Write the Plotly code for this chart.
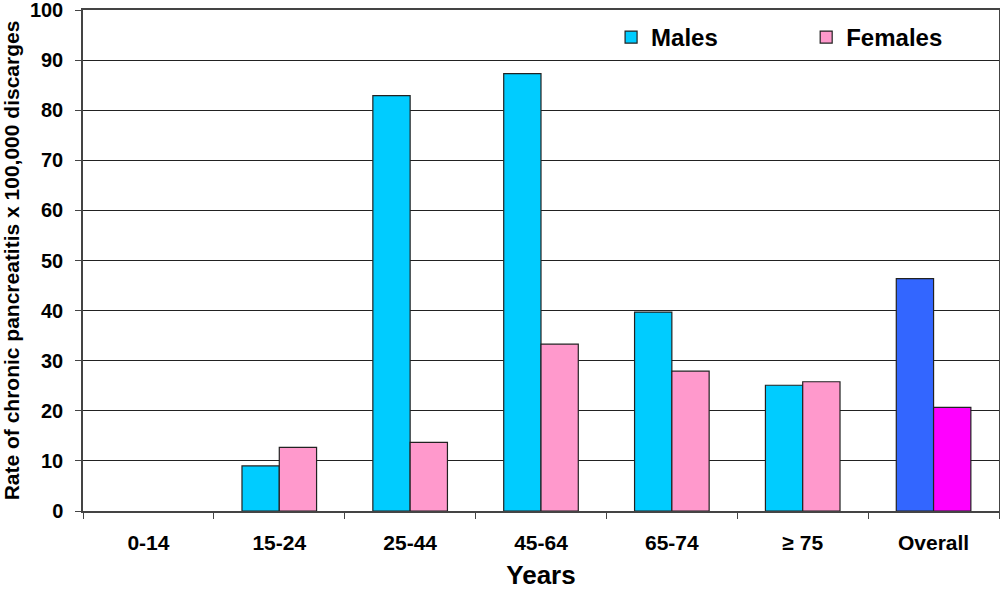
import plotly.graph_objects as go

# Dados
categories = ["0-14", "15-24", "25-44", "45-64", "65-74", "≥ 75", "Overall"]
males = [None, 9.0, 82.9, 87.3, 39.7, 25.1, 46.4]
females = [None, 12.7, 13.7, 33.3, 27.9, 25.8, 20.7]

male_colors = ["#00CCFF"] * 6 + ["#3366FF"]
female_colors = ["#FF99CC"] * 6 + ["#FF00FF"]

font_family = "Liberation Sans, Arial, sans-serif"

fig = go.Figure()
fig.add_trace(go.Bar(
    x=categories, y=males, name="Males", legend="legend",
    marker=dict(color=male_colors, line=dict(color="#222222", width=1.2)),
))
fig.add_trace(go.Bar(
    x=categories, y=females, name="Females", legend="legend2",
    marker=dict(color=female_colors, line=dict(color="#222222", width=1.2)),
))

legend_style = dict(
    y=0.99, xanchor="left", yanchor="top", bgcolor="rgba(0,0,0,0)",
    font=dict(size=24, weight="bold"), itemwidth=30,
)

fig.update_layout(
    width=1000, height=590,
    margin=dict(l=83, r=1, t=10, b=79),
    paper_bgcolor="white", plot_bgcolor="white",
    barmode="group", bargap=0.43, bargroupgap=0,
    font=dict(family=font_family, size=16, color="black", weight="bold"),
    showlegend=True,
    legend=dict(x=0.5765, **legend_style),
    legend2=dict(x=0.7895, **legend_style),
    xaxis=dict(
        type="category", tickson="boundaries", ticks="outside", ticklen=6,
        tickcolor="#444444", showline=True, linecolor="#444444", linewidth=1.5,
        mirror=True, showgrid=False, automargin=False,
        ticklabelstandoff=12,
        tickfont=dict(size=21, weight="bold"),
        title=dict(text="Years", font=dict(size=26, weight="bold"), standoff=14),
    ),
    yaxis=dict(
        range=[0, 100], dtick=10, ticks="outside", ticklen=6, tickcolor="#444444",
        showline=True, linecolor="#444444", linewidth=1.5, mirror=True,
        showgrid=True, gridcolor="#222222", gridwidth=1, automargin=False,
        ticklabelstandoff=8, ticklabeloverflow="allow",
        tickfont=dict(size=20, weight="bold"),
        title=dict(text="Rate of chronic pancreatitis x 100,000 discarges",
                   font=dict(size=21, weight="bold"), standoff=13),
        zeroline=False,
    ),
)

# tira a margem de 8px da página para a figura ocupar a janela inteira
fig.write_html(
    "out.html",
    config={"displayModeBar": False},
    post_script="document.body.style.margin = '0';",
)
